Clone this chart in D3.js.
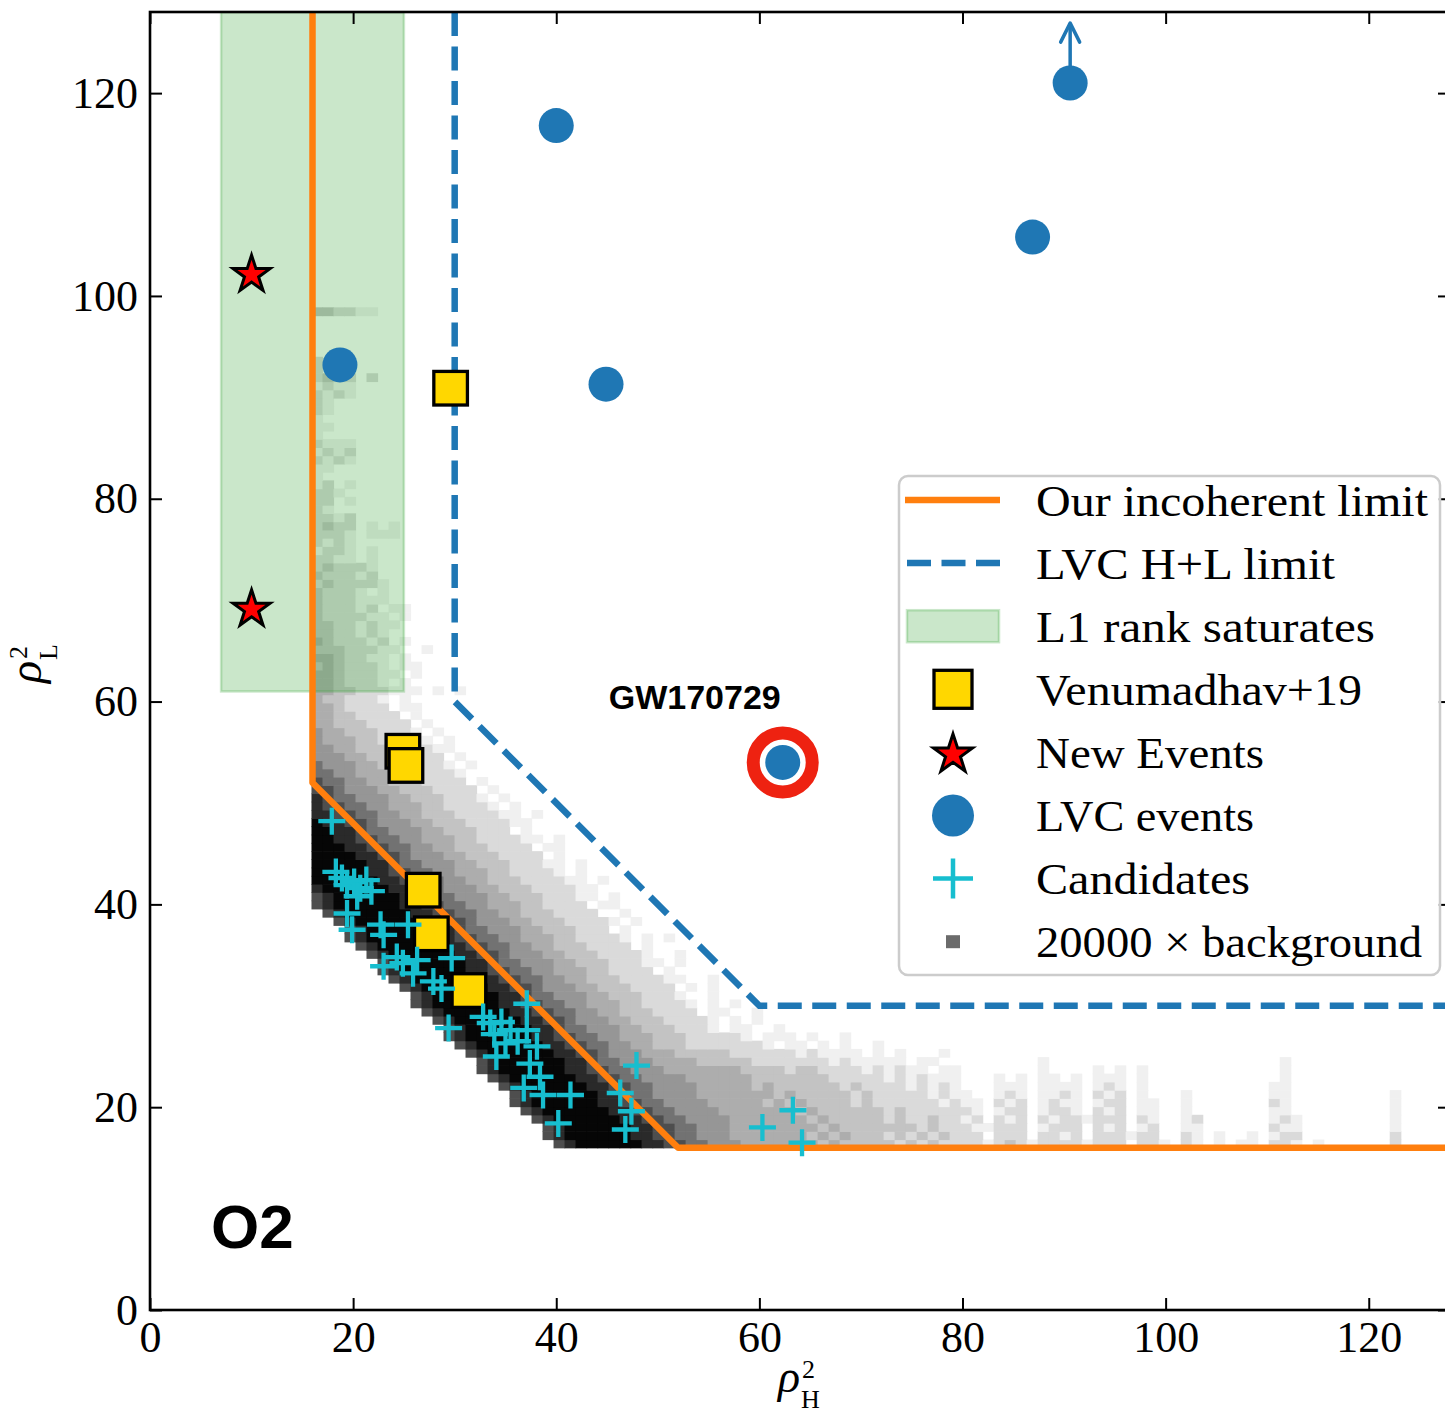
<!DOCTYPE html>
<html>
<head>
<meta charset="utf-8">
<script src="https://cdn.jsdelivr.net/npm/d3@7"></script>
<style>
  body { margin: 0; background: #fff; }
  svg text { font-family: "Liberation Serif", serif; fill: #000; }
</style>
</head>
<body>
<svg id="chart" width="1445" height="1415"></svg>
<script>
// ---- data ----
const xTicks = [0, 20, 40, 60, 80, 100, 120];
const yTicks = [0, 20, 40, 60, 80, 100, 120];

const ourLimit = [[16, 128], [16, 52], [52, 16], [128, 16]];
const lvcLimit = [[30, 128], [30, 60], [60, 30], [128, 30]];
const saturatesX = [7, 25];
const saturatesY = [61, 128];

const venumadhav = [[29.6, 90.9], [24.9, 55.1], [25.2, 53.7], [26.9, 41.4], [27.7, 37.1], [31.4, 31.5]];
const newEvents = [[10.0, 102.1], [10.0, 69.1]];
const lvcEvents = [[18.7, 93.2], [40.0, 116.8], [44.9, 91.3], [86.9, 105.8], [90.6, 121.0], [62.3, 54.0]];
const highlighted = [62.3, 54.0];
const arrowFrom = [90.6, 121.0];
const arrowTo = [90.6, 126.9];

const candidates = [
  [17.9, 48.2], [18.3, 43.2], [18.9, 42.6], [19.4, 41.9], [20.1, 42.2], [20.7, 41.6], [21.3, 42.4],
  [21.8, 41.3], [20.4, 40.8], [19.4, 39.1], [19.9, 37.5], [22.7, 38.0], [23.0, 37.0], [25.4, 38.0],
  [24.3, 34.8], [23.0, 33.9], [24.9, 34.2], [26.3, 34.5], [25.9, 33.2], [27.9, 32.4], [28.7, 31.7],
  [29.7, 34.7], [29.4, 27.8], [32.8, 28.9], [33.5, 28.3], [34.6, 28.4], [35.5, 27.6], [33.9, 27.2],
  [35.0, 26.3], [36.2, 26.5], [34.1, 25.0], [37.1, 30.2], [37.1, 27.6], [37.4, 24.3], [36.8, 21.9],
  [38.4, 23.0], [38.1, 26.0], [38.7, 21.2], [41.4, 21.2], [40.2, 18.4], [46.3, 21.4], [47.4, 19.6],
  [46.8, 17.8], [47.9, 24.1], [60.3, 18.0], [63.3, 19.7], [64.2, 16.5]
];

// background histogram: [x0, y0, bin width, bin height]
const bgBin = [15.9, 16, 130 / 120, 130 / 160];
// one string per bin row from y0 upward: "first column|shades" (1 light .. 9 black, "." empty)
const bgRows = [
  "22|78999999887766555444444434333",
  "21|789999998877665554444444343433",
  "21|789999998877665554444444434333",
  "20|7899999988776655554444444343333",
  "19|78999999887766555544444443433333",
  "18|789999998877665555444443434333323",
  "18|789999998876655554444444343333323",
  "17|7899999988776655554444434333333232",
  "16|78999999887766555544444433333332222",
  "15|789999998877665554444444333323322221",
  "15|789999998876655544443333322222221211111.11.........1.....................1",
  "14|789999998877655544433333222222121111.1.1...1",
  "13|78999999887766554433322222221.11.1.1..1",
  "12|7899999988776655444333222221.111.1..1",
  "12|7899999988766555443332221.11..1",
  "11|78999999887765554433322221.1.1",
  "10|7899999988776655443332222.11..1",
  "9|78999999887766554443322221.1.1",
  "9|7899999988766555443332221..1",
  "8|7899999988776555443332222.1.1",
  "7|789999998877665544333222211..1",
  "6|7899999988776655444332222.1",
  "6|78999999887665554433322211.1",
  "5|78999999887765554433322221..1",
  "4|7899999988776655443332222.1",
  "3|78999999887766554443322221.1.1",
  "3|789999998876655544333222.1",
  "2|78999999887765554433322221.1",
  "1|7899999988776655443332222..1",
  "0|7899999988776655444332222.11",
  "0|78999999887665554433322211.1",
  "0|89999998877655544333222211",
  "0|9999998877665544333222211.1",
  "0|99999887766554443322221.1",
  "0|99999887665554433322211.1",
  "0|999988776555443332222.1",
  "0|99988776655443332222.11",
  "0|998877665544433222211.1",
  "0|998876655544333222.1",
  "0|98877655544333222211",
  "0|8877665544333222211.1",
  "0|87766554443322221.1",
  "0|8766555443332221.1",
  "0|776555443332222.1",
  "0|76655443332222.1",
  "0|66554443322221",
  "0|6555443332221.1",
  "0|555443332222.1",
  "0|5544333222211",
  "0|54443322221.1",
  "0|5443332221.1",
  "0|443332222.1",
  "0|44332222.1",
  "0|4432222.11",
  "0|4332221.1",
  "0|4433222111.1.1",
  "0|4432221.1",
  "0|44322211.1",
  "0|3432221.11",
  "0|4432211.1",
  "0|33322211..1",
  "0|4322212.1",
  "0|3322121",
  "0|33221211",
  "0|3222211.1",
  "0|322212.11",
  "0|3222111",
  "0|32221.1",
  "0|2322221",
  "0|322212",
  "0|232221",
  "0|2211.1",
  "0|1221.1",
  "0|2121",
  "0|2221.111",
  "0|2322.1.1",
  "0|2212",
  "0|21",
  "0|22.1",
  "0|221",
  "0|12.1",
  "0|1",
  "0|11",
  "0|2121",
  "0|1212",
  "0|2111",
  "0|1",
  "0|11",
  "0|1",
  "0|21",
  "0|21",
  "0|2121",
  "0|1211",
  "0|2322.2",
  "0|2",
  "0|2",
  "0|",
  "0|",
  "0|",
  "0|",
  "0|",
  "0|332211"
];
// streaky tail along the H axis, bottom rows, starting at column 51
const bgTailStart = 51;
const bgTail = [
  "33232322221232122221222.221.21.1.11.221.1......2.",
  "3232323222.222.2212.222122..21.1..1.122........2.",
  "33332322211222.1222.212.12..11......211........1.",
  "3232232212.212.21221222.21..12......121........1.",
  "3232222221.122.1221.212.11..1.......11.........1.",
  "2222221211.212.1211.122.11..1.......21.........1.",
  "222221211..121.1121.212.1...1.......11.........1.",
  "22212121...111.1111.121.1...........11...........",
  "21212111...1.1.11.1.111.1............1...........",
  "21211.11.......1....1.1.1............1..........."
];

const legendLabels = ["Our incoherent limit", "LVC H+L limit", "L1 rank saturates", "Venumadhav+19",
  "New Events", "LVC events", "Candidates", "20000 \u00d7 background"];

// ---- drawing ----
const svg = d3.select("#chart");
const x = d3.scaleLinear().domain([0, 128]).range([150, 1450]);
const y = d3.scaleLinear().domain([0, 128]).range([1310, 12]);

const orange = "#ff7f0e", blue = "#1f77b4", green = "#2ca02c", cyan = "#17becf";

svg.append("defs").append("clipPath").attr("id", "plotclip")
  .append("rect").attr("x", 150).attr("y", 12).attr("width", 1300).attr("height", 1298);
const plot = svg.append("g").attr("clip-path", "url(#plotclip)");

// histogram cells
const [bx0, by0, bdx, bdy] = bgBin;
const shade = d3.scaleLinear().domain([1, 5, 9]).range([240, 150, 6]);
const cells = [];
bgRows.forEach((row, j) => {
  const [off, s] = row.split("|");
  [...s].forEach((c, k) => { if (c !== ".") cells.push({ i: +off + k, j: j, d: +c }); });
});
bgTail.forEach((s, j) => {
  [...s].forEach((c, k) => { if (c !== ".") cells.push({ i: bgTailStart + k, j: j, d: +c }); });
});
const cw = x(bdx) - x(0), ch = y(0) - y(bdy);
plot.append("g").selectAll("rect").data(cells).join("rect")
  .attr("x", d => x(bx0 + d.i * bdx))
  .attr("y", d => y(by0 + (d.j + 1) * bdy))
  .attr("width", cw + 0.6)
  .attr("height", ch + 0.6)
  .attr("fill", d => { const g = Math.round(shade(d.d)); return `rgb(${g},${g},${g})`; });

// L1 saturation band
plot.append("rect")
  .attr("x", x(saturatesX[0])).attr("y", y(saturatesY[1]))
  .attr("width", x(saturatesX[1]) - x(saturatesX[0]))
  .attr("height", y(saturatesY[0]) - y(saturatesY[1]))
  .attr("fill", green).attr("fill-opacity", 0.25)
  .attr("stroke", green).attr("stroke-opacity", 0.25).attr("stroke-width", 2.5);

const line = d3.line().x(d => x(d[0])).y(d => y(d[1]));
plot.append("path").attr("d", line(ourLimit))
  .attr("fill", "none").attr("stroke", orange).attr("stroke-width", 6.5).attr("stroke-linejoin", "round");
plot.append("path").attr("d", line(lvcLimit))
  .attr("fill", "none").attr("stroke", blue).attr("stroke-width", 6.5)
  .attr("stroke-dasharray", "24 10.5");

// markers
function starPath(R) {
  const pts = [];
  for (let k = 0; k < 10; k++) {
    const a = -Math.PI / 2 + k * Math.PI / 5;
    const r = k % 2 ? R * 0.382 : R;
    pts.push([r * Math.cos(a), r * Math.sin(a)]);
  }
  return "M" + pts.map(p => p[0].toFixed(2) + "," + p[1].toFixed(2)).join("L") + "Z";
}
function crossPath(h) { return `M${-h},0H${h}M0,${-h}V${h}`; }

plot.append("g").selectAll("rect").data(venumadhav).join("rect")
  .attr("x", d => x(d[0]) - 16.8).attr("y", d => y(d[1]) - 16.8)
  .attr("width", 33.6).attr("height", 33.6)
  .attr("fill", "#ffd700").attr("stroke", "#000").attr("stroke-width", 3.3);

plot.append("g").selectAll("path").data(newEvents).join("path")
  .attr("d", starPath(19.5))
  .attr("transform", d => `translate(${x(d[0])},${y(d[1])})`)
  .attr("fill", "#ff0000").attr("stroke", "#000").attr("stroke-width", 3);

// arrow (lower limit)
const ax = x(arrowTo[0]), ay = y(arrowTo[1]);
plot.append("line")
  .attr("x1", x(arrowFrom[0])).attr("y1", y(arrowFrom[1]))
  .attr("x2", ax).attr("y2", ay)
  .attr("stroke", blue).attr("stroke-width", 3.5);
plot.append("path")
  .attr("d", `M${ax - 9.5},${ay + 19}L${ax},${ay}L${ax + 9.5},${ay + 19}`)
  .attr("fill", "none").attr("stroke", blue).attr("stroke-width", 3.5)
  .attr("stroke-linejoin", "round").attr("stroke-linecap", "round");

plot.append("g").selectAll("circle").data(lvcEvents).join("circle")
  .attr("cx", d => x(d[0])).attr("cy", d => y(d[1])).attr("r", 17.5)
  .attr("fill", blue);

plot.append("circle")
  .attr("cx", x(highlighted[0])).attr("cy", y(highlighted[1])).attr("r", 29.5)
  .attr("fill", "none").attr("stroke", "#ee2211").attr("stroke-width", 13);

plot.append("g").selectAll("path").data(candidates).join("path")
  .attr("d", crossPath(13.5))
  .attr("transform", d => `translate(${x(d[0])},${y(d[1])})`)
  .attr("fill", "none").attr("stroke", cyan).attr("stroke-width", 4.3);

// annotations
svg.append("text")
  .attr("x", x(highlighted[0]) - 88).attr("y", y(highlighted[1]) - 53.5)
  .attr("text-anchor", "middle")
  .style("font-family", "'Liberation Sans', Arial, sans-serif")
  .style("font-weight", "bold").style("font-size", "34px")
  .text("GW170729");
svg.append("text")
  .attr("x", 211).attr("y", 1248)
  .style("font-family", "'Liberation Sans', Arial, sans-serif")
  .style("font-weight", "bold").style("font-size", "62px")
  .text("O2");

// axes
const tickFont = "44px";
const gx = svg.append("g").attr("transform", "translate(0,1310)")
  .call(d3.axisBottom(x).tickValues(xTicks).tickSizeInner(-12).tickSizeOuter(0).tickPadding(11).tickFormat(d3.format("d")));
const gy = svg.append("g").attr("transform", "translate(150,0)")
  .call(d3.axisLeft(y).tickValues(yTicks).tickSizeInner(-12).tickSizeOuter(0).tickPadding(12).tickFormat(d3.format("d")));
const gt = svg.append("g").attr("transform", "translate(0,12)")
  .call(d3.axisTop(x).tickValues(xTicks).tickSizeInner(-12).tickSizeOuter(0).tickFormat(""));
const gr = svg.append("g").attr("transform", "translate(1450,0)")
  .call(d3.axisRight(y).tickValues(yTicks).tickSizeInner(-12).tickSizeOuter(0).tickFormat(""));
[gx, gy, gt, gr].forEach(g => {
  g.select(".domain").remove();
  g.selectAll(".tick line").attr("stroke", "#000").attr("stroke-width", 2);
  g.selectAll(".tick text").style("font-family", "'Liberation Serif', serif").style("font-size", tickFont).attr("fill", "#000");
});
svg.append("rect").attr("x", 150).attr("y", 12).attr("width", 1300).attr("height", 1298)
  .attr("fill", "none").attr("stroke", "#000").attr("stroke-width", 2.6);

// axis labels: rho with stacked superscript 2 and subscript
function axisLabel(g, sub) {
  const t = g.append("text").style("font-size", "46px");
  t.append("tspan").style("font-style", "italic").text("\u03c1");
  t.append("tspan").attr("dx", 2).attr("dy", -14).style("font-size", "26px").text("2");
  t.append("tspan").attr("dx", -14).attr("dy", 30).style("font-size", "26px").text(sub);
}
axisLabel(svg.append("g").attr("transform", "translate(778,1392)"), "H");
axisLabel(svg.append("g").attr("transform", "translate(41,683) rotate(-90)"), "L");

// legend
const lg = svg.append("g");
lg.append("rect").attr("x", 899).attr("y", 476).attr("width", 541).attr("height", 499).attr("rx", 9)
  .attr("fill", "#fff").attr("fill-opacity", 0.8).attr("stroke", "#cccccc").attr("stroke-width", 2.5);
const rowY = i => 500 + i * 63.1;
const hx = 953;
const textWidths = [392, 299, 339, 326, 228, 218, 214, 386];
legendLabels.forEach((lab, i) => {
  lg.append("text").attr("x", 1036).attr("y", rowY(i) + 15.5)
    .attr("textLength", textWidths[i]).attr("lengthAdjust", "spacingAndGlyphs")
    .style("font-size", "45px").text(lab);
});
lg.append("line").attr("x1", 905).attr("x2", 1000).attr("y1", rowY(0)).attr("y2", rowY(0))
  .attr("stroke", orange).attr("stroke-width", 6.5);
lg.append("line").attr("x1", 907).attr("x2", 1000).attr("y1", rowY(1)).attr("y2", rowY(1))
  .attr("stroke", blue).attr("stroke-width", 6.5).attr("stroke-dasharray", "24 10.5");
lg.append("rect").attr("x", 907).attr("y", rowY(2) - 16).attr("width", 92).attr("height", 32)
  .attr("fill", green).attr("fill-opacity", 0.25)
  .attr("stroke", green).attr("stroke-opacity", 0.25).attr("stroke-width", 2.5);
lg.append("rect").attr("x", hx - 19).attr("y", rowY(3) - 19).attr("width", 38).attr("height", 38)
  .attr("fill", "#ffd700").attr("stroke", "#000").attr("stroke-width", 3.3);
lg.append("path").attr("d", starPath(20.5)).attr("transform", `translate(${hx},${rowY(4) + 2})`)
  .attr("fill", "#ff0000").attr("stroke", "#000").attr("stroke-width", 3);
lg.append("circle").attr("cx", hx).attr("cy", rowY(5)).attr("r", 21).attr("fill", blue);
lg.append("path").attr("d", crossPath(20)).attr("transform", `translate(${hx},${rowY(6)})`)
  .attr("stroke", cyan).attr("stroke-width", 4.5);
lg.append("rect").attr("x", hx - 7).attr("y", rowY(7) - 6.5).attr("width", 14).attr("height", 13)
  .attr("fill", "#6b6b6b");
</script>
</body>
</html>
